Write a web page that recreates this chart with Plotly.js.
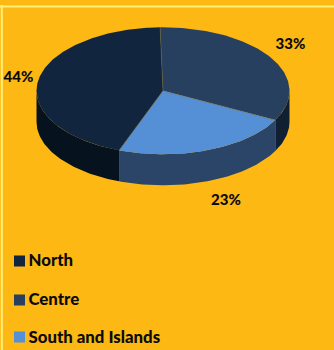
<!DOCTYPE html>
<html>
<head>
<meta charset="utf-8">
<script src="https://cdn.plot.ly/plotly-3.0.1.min.js"></script>
<style>html,body{margin:0;padding:0;background:#fdb813}</style>
</head>
<body>
<div id="chart" style="width:334px;height:350px"></div>
<script>
// Regional shares, in percent
const categories = ['Centre', 'South and Islands', 'North'];
const shares = [33, 23, 44];
const topColors = ['#27405f', '#558fd6', '#11253f'];
const wallColors = ['#101f33', '#2b4569', '#07121f'];
const legendOrder = ['North', 'Centre', 'South and Islands'];

// Tilted disc geometry on a pixel-sized data space
const cx = 163, cy = 90.8, rx = 126.5, ry = 63.5, depth = 31;
const startDeg = -1.3;
const edge = '#6e6e58';

const pt = (deg, drop) => {
  const a = deg * Math.PI / 180;
  return [cx + rx * Math.sin(a), cy - ry * Math.cos(a) + (drop || 0)];
};
const arc = (from, to, drop) => {
  const out = [];
  const n = Math.max(2, Math.ceil(Math.abs(to - from)));
  for (let i = 0; i <= n; i++) out.push(pt(from + (to - from) * i / n, drop));
  return out;
};
const poly = (points, color) => ({
  type: 'scatter', mode: 'lines', fill: 'toself', fillcolor: color,
  x: points.map(p => p[0]), y: points.map(p => p[1]),
  line: {width: 0}, hoverinfo: 'skip', showlegend: false
});
const seam = (a, b) => ({
  type: 'scatter', mode: 'lines', x: [a[0], b[0]], y: [a[1], b[1]],
  line: {color: edge, width: 0.5}, hoverinfo: 'skip', showlegend: false
});

const traces = [];
let angle = startDeg;
const spans = shares.map(v => {
  const s = {from: angle, to: angle + v * 3.6};
  angle = s.to;
  return s;
});

// Side walls: only the front half of the rim is visible
spans.forEach((s, i) => {
  const from = Math.max(s.from, 90), to = Math.min(s.to, 270);
  if (to <= from) return;
  traces.push(poly(arc(from, to, 0).concat(arc(to, from, depth)), wallColors[i]));
  if (i === 0) traces.push(seam(pt(s.to, 0), pt(s.to, depth)));
});

// Top face wedges, then the seams between them
spans.forEach((s, i) => {
  traces.push(poly([[cx, cy]].concat(arc(s.from, s.to, 0), [[cx, cy]]), topColors[i]));
});
spans.forEach(s => traces.push(seam([cx, cy], pt(s.from, 0))));

// Value labels
const labelX = [290.5, 226, 18.5], labelY = [45, 201, 78.5];
traces.push({
  type: 'scatter', mode: 'text', x: labelX, y: labelY,
  text: shares.map(v => v + '%'), textposition: 'middle center',
  textfont: {family: 'Lato, sans-serif', size: 15, color: '#0b0b0b', weight: 900},
  hoverinfo: 'skip', showlegend: false
});

// Legend keys, stacked under the disc
const keyY = [261, 300, 337];
const textY = [262, 301, 338.5];
legendOrder.forEach((name, i) => {
  const idx = categories.indexOf(name);
  traces.push({
    type: 'scatter', mode: 'markers', x: [19.5], y: [keyY[i]],
    marker: {symbol: 'square', size: 11, color: topColors[idx], line: {width: 0}},
    hoverinfo: 'skip', showlegend: false
  });
  traces.push({
    type: 'scatter', mode: 'text', x: [28.5], y: [textY[i]], text: [name],
    textposition: 'middle right',
    textfont: {family: 'Lato, sans-serif', size: 16.8, color: '#0b0b0b', weight: 900},
    hoverinfo: 'skip', showlegend: false
  });
});

const hidden = {visible: false, fixedrange: true};
Plotly.newPlot('chart', traces, {
  width: 334, height: 350,
  margin: {l: 0, r: 0, t: 0, b: 0},
  paper_bgcolor: '#fdb813', plot_bgcolor: '#fdb813',
  xaxis: Object.assign({range: [0, 334]}, hidden),
  yaxis: Object.assign({range: [350, 0]}, hidden),
  shapes: [
    {type: 'line', xref: 'paper', yref: 'paper', x0: 0, x1: 1, y0: 0.9815, y1: 0.9815,
     line: {color: '#fff07a', width: 2}},
    {type: 'line', xref: 'paper', yref: 'paper', x0: 0.0055, x1: 0.0055, y0: 0, y1: 0.986,
     line: {color: '#fff07a', width: 2}}
  ],
  showlegend: false
}, {displayModeBar: false, staticPlot: true});
</script>
</body>
</html>
